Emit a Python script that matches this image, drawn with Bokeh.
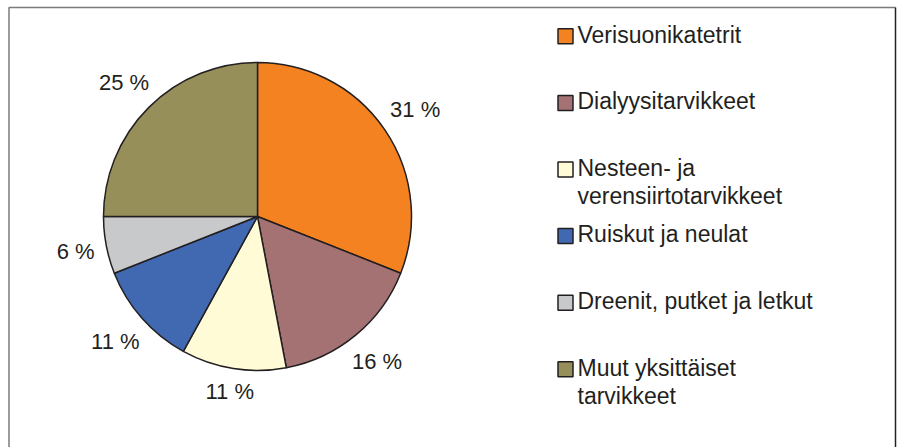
import math
from bokeh.plotting import figure
from bokeh.models import Range1d
from bokeh.embed import file_html
from bokeh.resources import INLINE
from bokeh.core.properties import value

categories = ["Verisuonikatetrit", "Dialyysitarvikkeet", "Nesteen- ja\nverensiirtotarvikkeet",
              "Ruiskut ja neulat", "Dreenit, putket ja letkut", "Muut yksittäiset\ntarvikkeet"]
shares = [31, 16, 11, 11, 6, 25]
colors = ["#F58220", "#A57274", "#FFFBD6", "#4169B1", "#C8C9CA", "#978F5A"]

W, H = 901, 447
FONT = "Liberation Sans"
TXT = "#231F20"

p = figure(width=W, height=H, x_range=Range1d(0, W), y_range=Range1d(0, H),
           output_backend="svg", toolbar_location=None, min_border=0)
p.axis.visible = False
p.grid.visible = False
p.outline_line_color = None
p.background_fill_color = "white"
p.border_fill_color = "white"

def Y(y):
    return H - y

# frame
p.line([8.5, 8.5, 895], [Y(450), Y(7), Y(7)], line_color="#7a7a7a", line_width=1.5)
p.line([895, 895], [Y(7), Y(450)], line_color="#222222", line_width=1.5)

# pie
cx, cy, R = 257, Y(216), 154
total = float(sum(shares))
starts, ends, mids = [], [], []
cum = 0.0
for v in shares:
    a0 = math.pi / 2 - 2 * math.pi * cum / total
    a1 = math.pi / 2 - 2 * math.pi * (cum + v) / total
    starts.append(a0)
    ends.append(a1)
    mids.append(math.pi / 2 - 2 * math.pi * (cum + v / 2) / total)
    cum += v

p.wedge(x=cx, y=cy, radius=R, start_angle=starts, end_angle=ends, direction="clock",
        fill_color=colors, line_color="#231F20", line_width=1.5)

# percentage labels
lx, ly, lt = [], [], []
for v, th in zip(shares, mids):
    label = f"{v} %"
    w = 12.6 * len(label)
    h = 17
    proj = abs(math.cos(th)) * w / 2 + abs(math.sin(th)) * h / 2
    r = R + 11 + proj
    lx.append(cx + r * math.cos(th))
    ly.append(cy + r * math.sin(th))
    lt.append(label)
p.text(x=lx, y=ly, text=lt, text_align="center", text_baseline="middle",
       text_font=value(FONT), text_font_size="22px", text_color=TXT)

# legend
sq_x, sq_y0, step = 565, 35.8, 66.6
tx = 577
p.rect(x=[sq_x] * len(categories), y=[Y(sq_y0 + i * step) for i in range(len(categories))],
       width=15, height=15, fill_color=colors, line_color="#231F20", line_width=1.5)
gx, gy, gt = [], [], []
for i, c in enumerate(categories):
    for j, line in enumerate(c.split("\n")):
        gx.append(tx)
        gy.append(Y(34 + i * step + j * 28))
        gt.append(line)
p.text(x=gx, y=gy, text=gt, text_align="left", text_baseline="middle",
       text_font=value(FONT), text_font_size="23px", text_color=TXT)

open("out.html", "w").write(file_html(p, INLINE))
